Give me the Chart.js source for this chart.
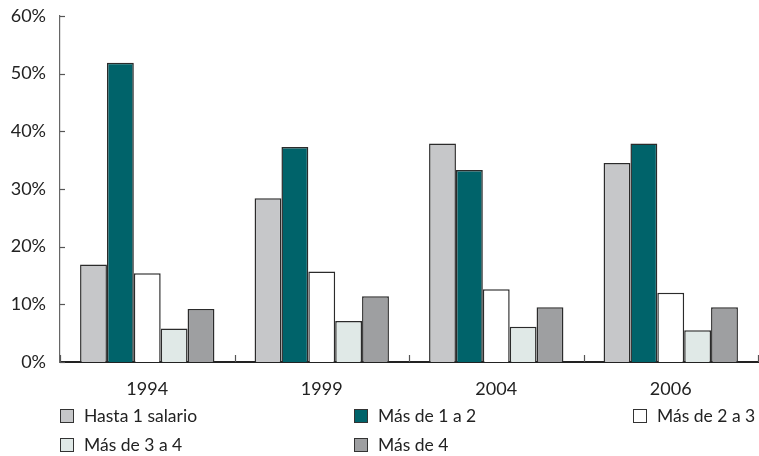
<!DOCTYPE html>
<html>
<head>
<meta charset="utf-8">
<script src="https://cdn.jsdelivr.net/npm/chart.js@4/dist/chart.umd.min.js"></script>
<style>
  html, body { margin: 0; padding: 0; background: #fff; }
  #wrap { position: relative; width: 759px; height: 456px; }
  #c { position: absolute; left: 0; top: 0; }
  .leg { position: absolute; font-family: Lato, "Open Sans", sans-serif; font-size: 17.5px; color: #222; white-space: nowrap; line-height: 20px; }
  .leg .box { position: absolute; left: 0; top: 3px; width: 12px; height: 12px; border: 1.4px solid #333; }
  .leg .txt { position: absolute; left: 24px; top: 0; }
</style>
</head>
<body>
<div id="wrap">
  <canvas id="c" width="759" height="456"></canvas>
</div>
<script>
const categories = ["1994", "1999", "2004", "2006"];
const seriesNames = ["Hasta 1 salario", "Más de 1 a 2", "Más de 2 a 3", "Más de 3 a 4", "Más de 4"];
const hasta1 = [16.9, 28.4, 37.9, 34.5];
const mas1a2 = [51.9, 37.3, 33.3, 37.9];
const mas2a3 = [15.4, 15.7, 12.6, 12.0];
const mas3a4 = [5.8, 7.1, 6.1, 5.5];
const mas4 = [9.2, 11.4, 9.5, 9.5];
const yTicks = [0, 10, 20, 30, 40, 50, 60];

const colors = ["#c6c7c9", "#00636a", "#ffffff", "#e0e9e7", "#9e9fa1"];
const seriesData = [hasta1, mas1a2, mas2a3, mas3a4, mas4];

const datasets = seriesNames.map((n, i) => ({
  label: n,
  data: seriesData[i],
  backgroundColor: colors[i],
  borderColor: "#2b2b2b",
  borderWidth: 1.5,
  borderSkipped: "bottom",
  categoryPercentage: 0.77,
  barPercentage: 1.0
}));

const tickPlugin = {
  id: "inwardTicks",
  afterDraw(chart) {
    const ctx = chart.ctx;
    const x = chart.scales.x, y = chart.scales.y;
    ctx.save();
    ctx.strokeStyle = "#555";
    ctx.lineWidth = 1.2;
    yTicks.forEach(v => {
      const py = Math.round(y.getPixelForValue(v)) + 0.5;
      ctx.beginPath();
      ctx.moveTo(x.left, py);
      ctx.lineTo(x.left + 5, py);
      ctx.stroke();
    });
    const n = categories.length;
    for (let i = 0; i <= n; i++) {
      const px = Math.round(x.getPixelForValue(i - 0.5)) + 0.5;
      ctx.beginPath();
      ctx.moveTo(px, y.bottom);
      ctx.lineTo(px, y.bottom - 7);
      ctx.stroke();
    }
    ctx.restore();
  }
};

const chart = new Chart(document.getElementById("c"), {
  type: "bar",
  data: { labels: categories, datasets },
  options: {
    responsive: false,
    animation: false,
    devicePixelRatio: 1,
    layout: { padding: { top: 16, right: 1, left: 0, bottom: 0 } },
    plugins: { legend: { display: false }, tooltip: { enabled: false } },
    scales: {
      x: {
        grid: { display: false, drawTicks: false },
        border: { display: true, color: "#222", width: 2 },
        ticks: { padding: 16, color: "#222", font: { family: "Lato", size: 18 } },
        afterFit(s) { s.height = 94; s.paddingLeft = 0; s.paddingRight = 0; }
      },
      y: {
        min: 0, max: 60,
        afterBuildTicks(s) { s.ticks = yTicks.map(v => ({ value: v })); },
        grid: { display: false, drawTicks: false },
        border: { display: true, color: "#666", width: 1.2 },
        ticks: { padding: 14, color: "#222", font: { family: "Lato", size: 18 }, callback: v => v + "%" },
        afterFit(s) { s.width = 60; s.paddingTop = 0; s.paddingBottom = 0; }
      }
    }
  },
  plugins: [tickPlugin]
});

// HTML legend generated from dataset definitions
const legPos = [[60, 406], [354, 406], [633, 406], [60, 435], [354, 435]];
const wrap = document.getElementById("wrap");
chart.data.datasets.forEach((ds, i) => {
  const d = document.createElement("div");
  d.className = "leg";
  d.style.left = legPos[i][0] + "px";
  d.style.top = legPos[i][1] + "px";
  const b = document.createElement("span");
  b.className = "box";
  b.style.background = ds.backgroundColor;
  const t = document.createElement("span");
  t.className = "txt";
  t.textContent = ds.label;
  d.appendChild(b); d.appendChild(t);
  wrap.appendChild(d);
});
</script>
</body>
</html>
